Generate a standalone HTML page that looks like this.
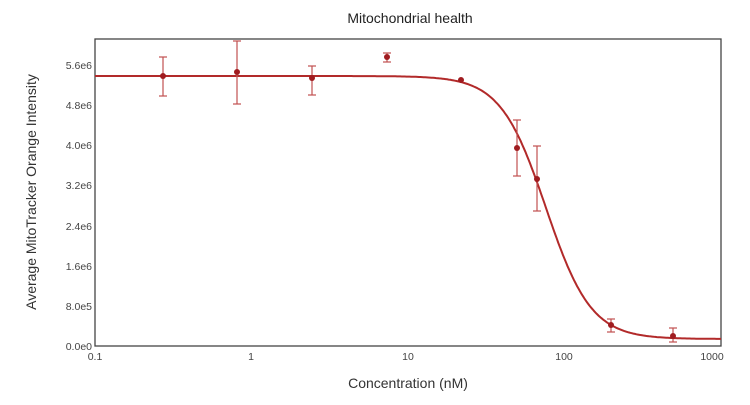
<!DOCTYPE html>
<html><head><style>
body{margin:0;background:#fff;font-family:"Liberation Sans",sans-serif;}
</style></head><body>
<svg id="s" width="750" height="400" xmlns="http://www.w3.org/2000/svg" font-family="Liberation Sans, sans-serif">
<text x="410" y="23" font-size="14" text-anchor="middle" fill="#222">Mitochondrial health</text>
<rect x="95" y="39" width="626" height="307" fill="#fff" stroke="#444" stroke-width="1.3"/>
<g font-size="10.5" fill="#444" text-anchor="end">
<text x="92" y="69">5.6e6</text><text x="92" y="109">4.8e6</text><text x="92" y="149">4.0e6</text>
<text x="92" y="189">3.2e6</text><text x="92" y="230">2.4e6</text><text x="92" y="270">1.6e6</text>
<text x="92" y="310">8.0e5</text><text x="92" y="350">0.0e0</text>
</g>
<g font-size="10.5" fill="#444" text-anchor="middle">
<text x="95" y="360">0.1</text><text x="251" y="360">1</text><text x="408" y="360">10</text>
<text x="564" y="360">100</text><text x="712" y="360">1000</text>
</g>
<text transform="translate(36,192) rotate(-90)" font-size="14" fill="#333" text-anchor="middle">Average MitoTracker Orange Intensity</text>
<text x="408" y="388" font-size="14" fill="#333" text-anchor="middle">Concentration (nM)</text>
<path id="c" fill="none" stroke="#b22a2a" stroke-width="2"/>
<g id="p" stroke="#c05050" stroke-width="1.2" fill="#a01c20"></g>
</svg>
<script>
(function(){
function X(c){return 95+(Math.log10(c)+1)*156.5;}
var yT=76,yB=339,ic=76,h=3,d="";
for(var i=0;i<=400;i++){var lg=-1+4*i/400,c=Math.pow(10,lg);
var y=yB+(yT-yB)/(1+Math.pow(c/ic,h));var x=X(c);
if(x>721)x=721;d+=(i?"L":"M")+x.toFixed(1)+","+y.toFixed(1);}
document.getElementById("c").setAttribute("d",d);
var pts=[[163,76,57,96],[237,72,41,104],[312,78,66,95],[387,57,53,62],[461,80,80,80],[517,148,120,176],[537,179,146,211],[611,325,319,332],[673,336,328,342]];
var g=document.getElementById("p"),s="";
pts.forEach(function(p){if(p[3]>p[2]){s+='<line x1="'+p[0]+'" x2="'+p[0]+'" y1="'+p[2]+'" y2="'+p[3]+'"/><line x1="'+(p[0]-4)+'" x2="'+(p[0]+4)+'" y1="'+p[2]+'" y2="'+p[2]+'"/><line x1="'+(p[0]-4)+'" x2="'+(p[0]+4)+'" y1="'+p[3]+'" y2="'+p[3]+'"/>';}
s+='<circle cx="'+p[0]+'" cy="'+p[1]+'" r="3" stroke="none"/>';});
g.innerHTML=s;
})();
</script>
</body></html>
